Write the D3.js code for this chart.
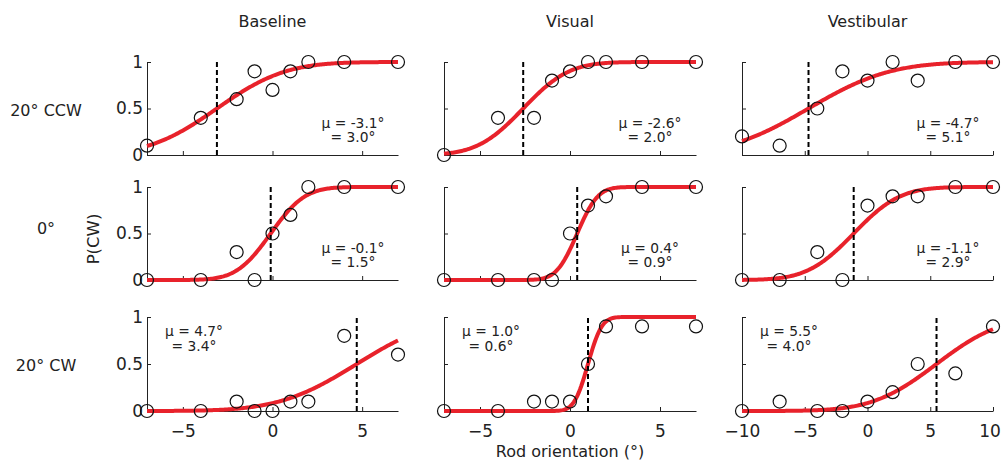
<!DOCTYPE html>
<html lang="en">
<head>
  <meta charset="UTF-8">
  <title>Psychometric functions: Baseline / Visual / Vestibular</title>
  <script src="https://d3js.org/d3.v7.min.js"></script>
  <style>
    html, body {
      margin: 0;
      padding: 0;
      background: #fff;
    }
    svg text {
      font-family: "DejaVu Sans", sans-serif;
      fill: #222;
    }
    .axis path, .axis line {
      stroke: #222;
      stroke-width: 1;
    }
  </style>
</head>
<body>
  <div id="chart"></div>
  <script>
    // column titles and row labels
    var conditions = ["Baseline", "Visual", "Vestibular"];
    var tilts = ["20\u00b0 CCW", "0\u00b0", "20\u00b0 CW"];

    // rod orientations tested (deg)
    var rodBaseline = [-7, -4, -2, -1, 0, 1, 2, 4, 7];
    var rodVisual = [-7, -4, -2, -1, 0, 1, 2, 4, 7];
    var rodVestibular = [-10, -7, -4, -2, 0, 2, 4, 7, 10];

    // proportion CW responses, one row per tilt (20 CCW, 0, 20 CW)
    var pBaseline = [
      [0.1, 0.4, 0.6, 0.9, 0.7, 0.9, 1, 1, 1],
      [0, 0, 0.3, 0, 0.5, 0.7, 1, 1, 1],
      [0, 0, 0.1, 0, 0, 0.1, 0.1, 0.8, 0.6]
    ];
    var pVisual = [
      [0, 0.4, 0.4, 0.8, 0.9, 1, 1, 1, 1],
      [0, 0, 0, 0, 0.5, 0.8, 0.9, 1, 1],
      [0, 0, 0.1, 0.1, 0.1, 0.5, 0.9, 0.9, 0.9]
    ];
    var pVestibular = [
      [0.2, 0.1, 0.5, 0.9, 0.8, 1, 0.8, 1, 1],
      [0, 0, 0.3, 0, 0.8, 0.9, 0.9, 1, 1],
      [0, 0.1, 0, 0, 0.1, 0.2, 0.5, 0.4, 0.9]
    ];

    // fitted cumulative gaussian parameters (deg)
    var muBaseline = [-3.1, -0.1, 4.7];
    var sigmaBaseline = [3.0, 1.5, 3.4];
    var muVisual = [-2.6, 0.4, 1.0];
    var sigmaVisual = [2.0, 0.9, 0.6];
    var muVestibular = [-4.7, -1.1, 5.5];
    var sigmaVestibular = [5.1, 2.9, 4.0];

    // axis ranges and ticks
    var xDomains = [[-7, 7], [-7, 7], [-10, 10]];
    var xTicks = [[-5, 0, 5], [-5, 0, 5], [-10, -5, 0, 5, 10]];
    var yTicks = [0, 0.5, 1];
    var yTickLabels = ["0", "0.5", "1"];

    var columns = [
      {rod: rodBaseline, p: pBaseline, mu: muBaseline, sigma: sigmaBaseline},
      {rod: rodVisual, p: pVisual, mu: muVisual, sigma: sigmaVisual},
      {rod: rodVestibular, p: pVestibular, mu: muVestibular, sigma: sigmaVestibular}
    ];

    var width = 1001, height = 464;

    // panel layout (pixels)
    var colLeft = [147, 444, 742];
    var colRight = [398, 696, 993];
    var rowBottom = [155, 280, 411];
    var rowTop = [62, 187, 317];
    var rowLabelY = [116, 234, 371];

    var svg = d3.select("#chart").append("svg")
      .attr("width", width)
      .attr("height", height);

    // standard normal cdf (Abramowitz & Stegun erf)
    function normCdf(z) {
      var t = 1 / (1 + 0.3275911 * Math.abs(z) / Math.SQRT2);
      var y = 1 - (((((1.061405429 * t - 1.453152027) * t) + 1.421413741) * t - 0.284496736) * t + 0.254829592) * t *
        Math.exp(-z * z / 2);
      return z >= 0 ? (1 + y) / 2 : (1 - y) / 2;
    }

    function fmt(v) {
      return v.toFixed(1) + "\u00b0";
    }

    columns.forEach(function(col, c) {
      // column title
      svg.append("text")
        .attr("x", (colLeft[c] + colRight[c]) / 2)
        .attr("y", 27)
        .attr("text-anchor", "middle")
        .style("font-size", "16px")
        .text(conditions[c]);

      var x = d3.scaleLinear().domain(xDomains[c]).range([colLeft[c], colRight[c]]);

      tilts.forEach(function(tilt, r) {
        var y = d3.scaleLinear().domain([0, 1]).range([rowBottom[r], rowTop[r]]);
        var g = svg.append("g");

        // x axis
        var xAxis = d3.axisBottom(x)
          .tickValues(xTicks[c])
          .tickSizeInner(-4)
          .tickSizeOuter(0)
          .tickPadding(14)
          .tickFormat(r === 2 ? d3.format("") : "");
        var gx = g.append("g")
          .attr("class", "axis")
          .attr("transform", "translate(0," + rowBottom[r] + ")")
          .call(xAxis);
        gx.selectAll("text")
          .style("font-size", "17px")
          .attr("fill", "#222")
          .attr("dx", function(d) { return d === 10 ? -3.5 : 0; });

        // y axis
        var yAxis = d3.axisLeft(y)
          .tickValues(yTicks)
          .tickSizeInner(-4)
          .tickSizeOuter(0)
          .tickPadding(4)
          .tickFormat(function(d, i) { return c === 0 ? yTickLabels[i] : ""; });
        var gy = g.append("g")
          .attr("class", "axis")
          .attr("transform", "translate(" + colLeft[c] + ",0)")
          .call(yAxis);
        gy.selectAll("text").style("font-size", "17px").attr("fill", "#222");

        // fitted curve
        var mu = col.mu[r], sigma = col.sigma[r];
        var xs = d3.range(xDomains[c][0], xDomains[c][1] + 1e-9, (xDomains[c][1] - xDomains[c][0]) / 200);
        var line = d3.line()
          .x(function(d) { return x(d); })
          .y(function(d) { return y(normCdf((d - mu) / sigma)); });
        g.append("path")
          .datum(xs)
          .attr("fill", "none")
          .attr("stroke", "#e8222b")
          .attr("stroke-width", 4)
          .attr("d", line);

        // point of subjective vertical
        g.append("line")
          .attr("x1", x(mu)).attr("x2", x(mu))
          .attr("y1", y(0)).attr("y2", y(1))
          .attr("stroke", "#000")
          .attr("stroke-width", 2)
          .attr("stroke-dasharray", "5,3");

        // data points
        g.selectAll("circle")
          .data(col.p[r])
          .enter().append("circle")
          .attr("cx", function(d, i) { return x(col.rod[i]); })
          .attr("cy", function(d) { return y(d); })
          .attr("r", 6.5)
          .attr("fill", "none")
          .attr("stroke", "#111")
          .attr("stroke-width", 1.2);

        // fit parameters
        var left = r === 2;
        var tx = left ? colLeft[c] + 47 : colLeft[c] + 206;
        var ty = left ? rowTop[r] + 19 : rowTop[r] + 65.5;
        var ann = g.append("text")
          .attr("text-anchor", "middle")
          .style("font-size", "13.8px")
          .attr("fill", "#333");
        ann.append("tspan").attr("x", tx).attr("y", ty).text("\u03bc = " + fmt(mu));
        ann.append("tspan").attr("x", tx).attr("y", ty + 14.5).text("= " + fmt(sigma));

        // row label
        if (c === 0) {
          svg.append("text")
            .attr("x", 46)
            .attr("y", rowLabelY[r])
            .attr("text-anchor", "middle")
            .style("font-size", "16px")
            .text(tilt);
        }
      });
    });

    // y label
    svg.append("text")
      .attr("transform", "translate(99,239) rotate(-90)")
      .attr("text-anchor", "middle")
      .style("font-size", "16.5px")
      .text("P(CW)");

    // x label
    svg.append("text")
      .attr("x", (colLeft[1] + colRight[1]) / 2)
      .attr("y", 457)
      .attr("text-anchor", "middle")
      .style("font-size", "16px")
      .text("Rod orientation (\u00b0)");
  </script>
</body>
</html>
